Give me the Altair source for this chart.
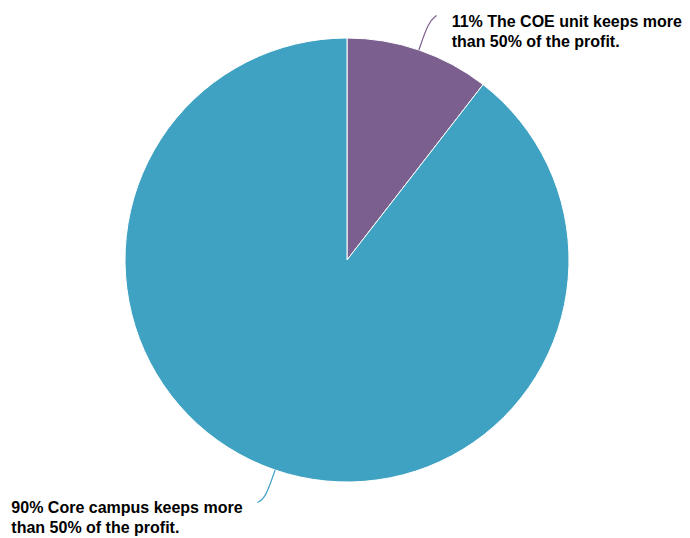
import math
import altair as alt
import pandas as pd

labels = ["The COE unit keeps more than 50% of the profit.",
          "Core campus keeps more than 50% of the profit."]
pct_text = ["11%", "90%"]
values = [10.5, 89.5]
colors = ["#7B5F8E", "#3FA2C2"]
label_lines = [["11% The COE unit keeps more", "than 50% of the profit."],
               ["90% Core campus keeps more", "than 50% of the profit."]]

W, H = 674, 530
CX, CY, R = 339, 252, 222

df = pd.DataFrame({"label": labels, "value": values, "order": [0, 1]})

pie = alt.Chart(df).mark_arc(outerRadius=R, stroke="white", strokeWidth=1).encode(
    theta=alt.Theta("value:Q", stack=True),
    order=alt.Order("order:Q"),
    color=alt.Color("label:N", scale=alt.Scale(domain=labels, range=colors), legend=None),
    x=alt.value(CX), y=alt.value(CY),
)

# leader lines derived from slice mid-angles
total = sum(values)
rows, texts = [], []
cum = 0
for i, v in enumerate(values):
    mid = (cum + v / 2) / total * 2 * math.pi
    cum += v
    s, c = math.sin(mid), math.cos(mid)
    p0 = (CX + R * s, CY - R * c)
    p1 = (CX + (R + 30) * s, CY - (R + 30) * c)
    side = 1 if s >= 0 else -1
    if c > 0:
        p2 = (p1[0] + 8 * side, p1[1] - 6)
    else:
        p2 = (p1[0] + 8 * side, p1[1] + 4)
    for k, p in enumerate([p0, p1, p2]):
        rows.append({"label": labels[i], "k": k, "px": p[0], "py": p[1]})
    tx = p2[0] + 15 if side > 0 else p2[0] - 246
    texts.append({"label": labels[i], "txt": label_lines[i], "tx": tx, "ty": p2[1] + 11})

ldf = pd.DataFrame(rows)
tdf = pd.DataFrame(texts)

lines = alt.Chart(ldf).mark_line(interpolate="basis", strokeWidth=1.2).encode(
    x=alt.X("px:Q", scale=None),
    y=alt.Y("py:Q", scale=None),
    detail="label:N",
    order="k:Q",
    color=alt.Color("label:N", scale=alt.Scale(domain=labels, range=colors), legend=None),
)

text = alt.Chart(tdf).mark_text(
    align="left", baseline="alphabetic", font="Liberation Sans", fontSize=16,
    fontWeight="bold", lineHeight=20, color="#000000"
).encode(
    x=alt.X("tx:Q", scale=None),
    y=alt.Y("ty:Q", scale=None),
    text="txt",
)

chart = alt.layer(pie, lines, text).properties(
    width=W, height=H, autosize=alt.AutoSizeParams(type="none"), padding=0
).configure_view(stroke=None)

chart.save("out.html", embed_options={"renderer": "svg", "actions": False})
